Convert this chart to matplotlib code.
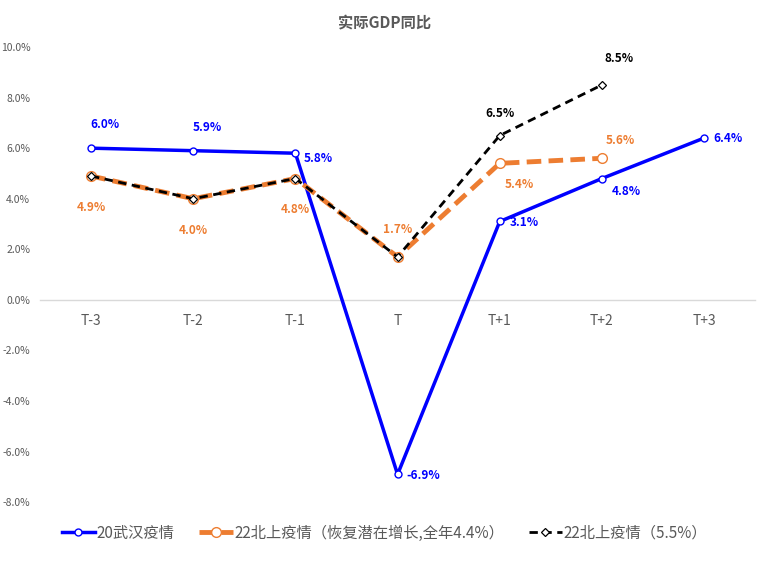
import matplotlib.pyplot as plt
from matplotlib.ticker import FuncFormatter

plt.rcParams['font.family'] = ['Noto Sans CJK SC', 'DejaVu Sans']

cats = ['T-3', 'T-2', 'T-1', 'T', 'T+1', 'T+2', 'T+3']
wuhan = [6.0, 5.9, 5.8, -6.9, 3.1, 4.8, 6.4]
bs_potential = [4.9, 4.0, 4.8, 1.7, 5.4, 5.6]
bs_55 = [4.9, 4.0, 4.8, 1.7, 6.5, 8.5]

blue = '#0000ff'
orange = '#ed7d31'

fig = plt.figure(figsize=(7.69, 5.63), dpi=100)
ax = fig.add_axes([0.052, 0.108, 0.930, 0.8085])

x = list(range(len(cats)))
ax.plot(x, wuhan, color=blue, lw=2.5, marker='o', ms=5, mfc='white', mec=blue, mew=1,
        label='20武汉疫情', zorder=3)
ax.plot(x[:len(bs_potential)], bs_potential, color=orange, lw=3.5, ls=(0, (3, 1.5)),
        marker='o', ms=7, mfc='white', mec=orange, mew=1,
        label='22北上疫情（恢复潜在增长,全年4.4%）', zorder=4)
ax.plot(x[:len(bs_55)], bs_55, color='black', lw=2, ls=(0, (3, 2)),
        marker='D', ms=4.5, mfc='white', mec='black', mew=0.9,
        label='22北上疫情（5.5%）', zorder=5)

# 数据标签
def lab(xi, v, dx, dy, color, ha='center'):
    ax.annotate(f'{v:.1f}%', (xi, v), xytext=(dx, dy), textcoords='offset points',
                ha=ha, va='center', color=color, fontsize=8.5, fontweight='bold')

blue_off = [(10, 17), (10, 17), (6, -4), (6, -1), (7, -1), (7, -9), (7, 0)]
for i, v in enumerate(wuhan):
    dx, dy = blue_off[i]
    lab(i, v, dx, dy, blue, ha='left' if i >= 2 else 'center')

orange_off = [(0, -23), (0, -23), (0, -22), (0, 20), (14, -15), (13, 13)]
for i, v in enumerate(bs_potential):
    dx, dy = orange_off[i]
    lab(i, v, dx, dy, orange)

lab(4, bs_55[4], 0, 16, 'black')
lab(5, bs_55[5], 12, 19, 'black')

ax.set_xlim(-0.5, 6.5)
ax.set_ylim(-8, 10)
ax.set_yticks(range(-8, 11, 2))
ax.yaxis.set_major_formatter(FuncFormatter(lambda v, p: f'{v:.1f}%'))
ax.set_xticks(x)
ax.set_xticklabels(cats)
ax.tick_params(axis='y', length=0, labelsize=7.5, labelcolor='#595959', pad=7)
ax.tick_params(axis='x', length=0, labelsize=10, labelcolor='#595959', pad=10)

for s in ['top', 'right', 'left']:
    ax.spines[s].set_visible(False)
ax.spines['bottom'].set_position(('data', 0))
ax.spines['bottom'].set_color('#d9d9d9')
ax.spines['bottom'].set_linewidth(1)

fig.text(0.5, 0.958, '实际GDP同比', ha='center', va='center', fontsize=11,
         fontweight='bold', color='#595959')

fig.legend(loc='center', bbox_to_anchor=(0.5, 0.053), ncol=3, frameon=False,
           fontsize=11, labelcolor='#595959', handlelength=2.2, handletextpad=0.1,
           columnspacing=1.6)

fig.savefig('out.png', dpi=100)
